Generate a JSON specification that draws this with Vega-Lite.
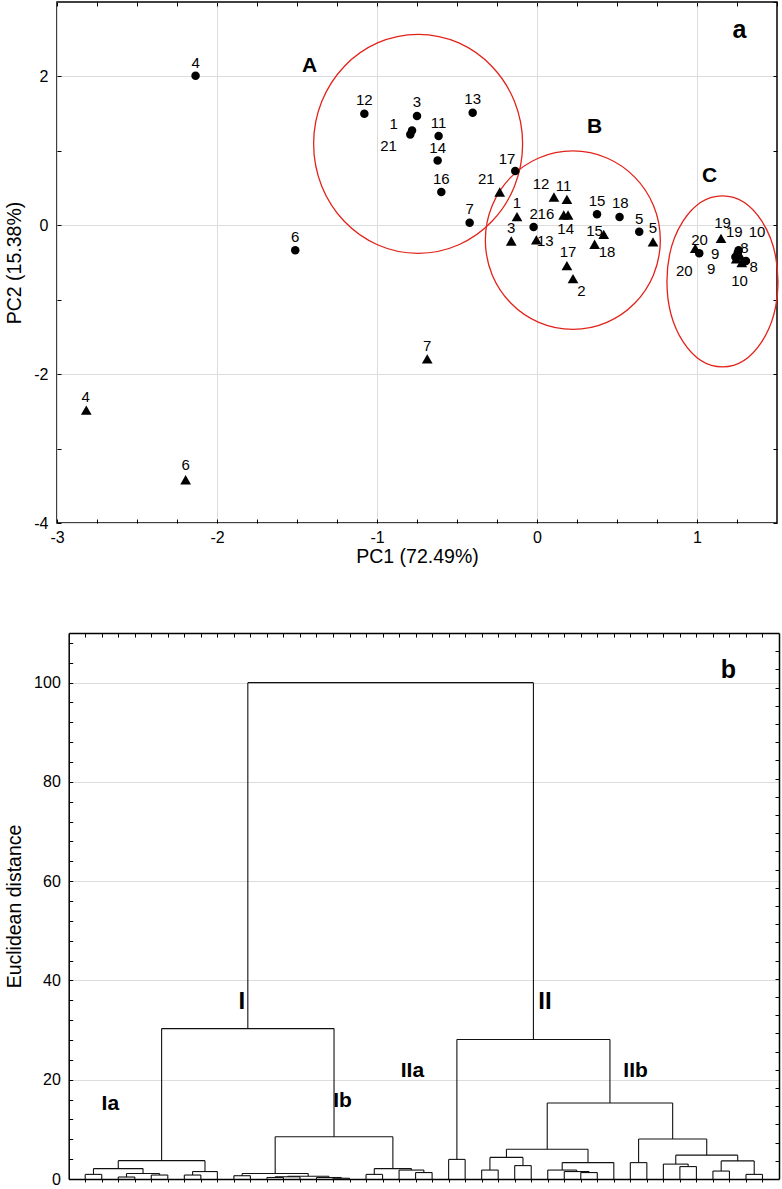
{
  "$schema": "https://vega.github.io/schema/vega-lite/v6.json",
  "padding": {"left": 3, "top": 0, "right": 3, "bottom": 3},
  "columns": 1,
  "spacing": 65,
  "config": {
    "font": "Liberation Sans",
    "view": {"stroke": "black", "strokeWidth": 1.5},
    "axis": {
      "domain": false, "tickColor": "black", "labelColor": "black", "titleColor": "black",
      "labelFont": "Liberation Sans", "titleFont": "Liberation Sans",
      "labelFontSize": 16, "titleFontSize": 19.5, "titleFontWeight": "normal",
      "gridColor": "#dcdcdc", "tickWidth": 1, "labelFlush": false, "labelOverlap": false, "minExtent": 0,
      "domainColor": "black", "domainWidth": 1.5
    }
  },
  "concat": [
    {
      "width": 720,
      "height": 521,
      "resolve": {"axis": {"x": "independent", "y": "independent"}},
      "layer": [
        {
          "data": {"values": [
            {"cluster": "A", "cx": -0.743, "cy": 1.094},
            {"cluster": "B", "cx": 0.224, "cy": -0.2},
            {"cluster": "C", "cx": 1.159, "cy": -0.754}
          ]},
          "mark": {"type": "point", "filled": false, "stroke": "#e2231a", "strokeWidth": 1.3, "size": 4, "opacity": 1},
          "encoding": {
            "x": {"field": "cx", "type": "quantitative", "scale": {"domain": [-3, 1.5], "nice": false, "zero": false}, "axis": null},
            "y": {"field": "cy", "type": "quantitative", "scale": {"domain": [-4, 3], "nice": false, "zero": false}, "axis": null},
            "shape": {"field": "cluster", "type": "nominal", "legend": null,
              "scale": {"domain": ["A", "B", "C"], "range": [
                "M-104.5,0A104.5,109.5,0,1,0,104.5,0A104.5,109.5,0,1,0,-104.5,0Z",
                "M-87.5,0A87.5,89.2,0,1,0,87.5,0A87.5,89.2,0,1,0,-87.5,0Z",
                "M-55.5,0A55.5,85.5,0,1,0,55.5,0A55.5,85.5,0,1,0,-55.5,0Z"
              ]}}
          }
        },
        {
          "mark": {"type": "rule", "color": "#e2231a", "strokeWidth": 1.3},
          "encoding": {
            "y": {"datum": 0, "type": "quantitative", "scale": {"domain": [-4, 3], "nice": false, "zero": false}, "axis": null}
          }
        },
        {
          "data": {"values": [
            {"sample": "4", "pc1": -2.134, "pc2": 2.008},
            {"sample": "12", "pc1": -1.079, "pc2": 1.498},
            {"sample": "6", "pc1": -1.511, "pc2": -0.336},
            {"sample": "3", "pc1": -0.75, "pc2": 1.467},
            {"sample": "1", "pc1": -0.781, "pc2": 1.275},
            {"sample": "21", "pc1": -0.792, "pc2": 1.221},
            {"sample": "11", "pc1": -0.615, "pc2": 1.199},
            {"sample": "14", "pc1": -0.621, "pc2": 0.872},
            {"sample": "16", "pc1": -0.598, "pc2": 0.447},
            {"sample": "13", "pc1": -0.402, "pc2": 1.512},
            {"sample": "17", "pc1": -0.136, "pc2": 0.729},
            {"sample": "7", "pc1": -0.421, "pc2": 0.035},
            {"sample": "2", "pc1": -0.021, "pc2": -0.023},
            {"sample": "15", "pc1": 0.375, "pc2": 0.148},
            {"sample": "18", "pc1": 0.516, "pc2": 0.111},
            {"sample": "5", "pc1": 0.639, "pc2": -0.086},
            {"sample": "20", "pc1": 1.014, "pc2": -0.376},
            {"sample": "19", "pc1": 1.26, "pc2": -0.336},
            {"sample": "10", "pc1": 1.254, "pc2": -0.376},
            {"sample": "9", "pc1": 1.24, "pc2": -0.425},
            {"sample": "8", "pc1": 1.306, "pc2": -0.479}
          ]},
          "mark": {"type": "point", "shape": "circle", "filled": true, "color": "black", "size": 72, "opacity": 1},
          "encoding": {
            "x": {"field": "pc1", "type": "quantitative", "scale": {"domain": [-3, 1.5], "nice": false, "zero": false},
              "title": "PC1 (72.49%)",
              "axis": {"orient": "bottom",
                "values": [-3, -2.75, -2.5, -2.25, -2, -1.75, -1.5, -1.25, -1, -0.75, -0.5, -0.25, 0, 0.25, 0.5, 0.75, 1, 1.25],
                "labelExpr": "datum.value % 1 === 0 ? '' + datum.value : ''",
                "tickSize": -4, "labelPadding": 10.5, "titlePadding": 2,
                "grid": true,
                "gridOpacity": {"condition": {"test": "datum.value % 1 === 0", "value": 1}, "value": 0}}},
            "y": {"field": "pc2", "type": "quantitative", "scale": {"domain": [-4, 3], "nice": false, "zero": false},
              "title": "PC2 (15.38%)",
              "axis": {"orient": "left",
                "values": [-4, -3, -2, -1, 0, 1, 2],
                "labelExpr": "datum.value % 2 === 0 ? '' + datum.value : ''",
                "tickSize": -4, "labelPadding": 13, "titlePadding": 9.5, "minExtent": 0,
                "grid": true,
                "gridOpacity": {"condition": {"test": "datum.value % 2 === 0", "value": 1}, "value": 0}}}
          }
        },
        {
          "data": {"values": [
            {"sample": "21", "pc1": -0.233, "pc2": 0.447},
            {"sample": "1", "pc1": -0.125, "pc2": 0.115},
            {"sample": "3", "pc1": -0.161, "pc2": -0.211},
            {"sample": "12", "pc1": 0.106, "pc2": 0.38},
            {"sample": "11", "pc1": 0.187, "pc2": 0.349},
            {"sample": "16", "pc1": 0.167, "pc2": 0.138},
            {"sample": "14", "pc1": 0.194, "pc2": 0.138},
            {"sample": "13", "pc1": -0.004, "pc2": -0.197},
            {"sample": "17", "pc1": 0.187, "pc2": -0.542},
            {"sample": "2", "pc1": 0.225, "pc2": -0.716},
            {"sample": "15", "pc1": 0.417, "pc2": -0.121},
            {"sample": "18", "pc1": 0.36, "pc2": -0.255},
            {"sample": "5", "pc1": 0.725, "pc2": -0.224},
            {"sample": "7", "pc1": -0.686, "pc2": -1.795},
            {"sample": "4", "pc1": -2.817, "pc2": -2.483},
            {"sample": "6", "pc1": -2.196, "pc2": -3.419},
            {"sample": "20", "pc1": 0.989, "pc2": -0.309},
            {"sample": "19", "pc1": 1.15, "pc2": -0.175},
            {"sample": "9", "pc1": 1.245, "pc2": -0.45},
            {"sample": "8", "pc1": 1.27, "pc2": -0.41},
            {"sample": "10", "pc1": 1.28, "pc2": -0.5}
          ]},
          "mark": {"type": "point", "shape": "triangle-up", "filled": true, "color": "black", "size": 115, "opacity": 1},
          "encoding": {
            "x": {"field": "pc1", "type": "quantitative", "scale": {"domain": [-3, 1.5], "nice": false, "zero": false},
              "axis": {"orient": "top", "title": null, "labels": false, "grid": false,
                "values": [-3, -2.75, -2.5, -2.25, -2, -1.75, -1.5, -1.25, -1, -0.75, -0.5, -0.25, 0, 0.25, 0.5, 0.75, 1, 1.25, 1.5],
                "tickSize": -4}},
            "y": {"field": "pc2", "type": "quantitative", "scale": {"domain": [-4, 3], "nice": false, "zero": false},
              "axis": {"orient": "right", "title": null, "labels": false, "grid": false, "minExtent": 0,
                "values": [-4, -3, -2, -1, 0, 1, 2, 3], "tickSize": -4}}
          }
        },
        {
          "data": {"values": [
            {"t": "4", "lx": -2.134, "ly": 2.18},
            {"t": "12", "lx": -1.079, "ly": 1.68},
            {"t": "6", "lx": -1.511, "ly": -0.155},
            {"t": "3", "lx": -0.75, "ly": 1.657},
            {"t": "1", "lx": -0.896, "ly": 1.366},
            {"t": "21", "lx": -0.928, "ly": 1.067},
            {"t": "11", "lx": -0.615, "ly": 1.38},
            {"t": "14", "lx": -0.621, "ly": 1.044},
            {"t": "16", "lx": -0.598, "ly": 0.62},
            {"t": "13", "lx": -0.402, "ly": 1.694},
            {"t": "17", "lx": -0.1875, "ly": 0.896},
            {"t": "7", "lx": -0.421, "ly": 0.217},
            {"t": "2", "lx": -0.021, "ly": 0.158},
            {"t": "15", "lx": 0.375, "ly": 0.325},
            {"t": "18", "lx": 0.521, "ly": 0.302},
            {"t": "5", "lx": 0.639, "ly": 0.091},
            {"t": "19", "lx": 1.16, "ly": 0.024},
            {"t": "19", "lx": 1.233, "ly": -0.088},
            {"t": "10", "lx": 1.375, "ly": -0.088},
            {"t": "8", "lx": 1.296, "ly": -0.302},
            {"t": "8", "lx": 1.354, "ly": -0.557},
            {"t": "10", "lx": 1.266, "ly": -0.749},
            {"t": "9", "lx": 1.114, "ly": -0.39},
            {"t": "9", "lx": 1.089, "ly": -0.59},
            {"t": "20", "lx": 1.016, "ly": -0.199},
            {"t": "20", "lx": 0.921, "ly": -0.615},
            {"t": "21", "lx": -0.317, "ly": 0.628},
            {"t": "1", "lx": -0.125, "ly": 0.306},
            {"t": "3", "lx": -0.161, "ly": -0.03},
            {"t": "12", "lx": 0.025, "ly": 0.561},
            {"t": "11", "lx": 0.166, "ly": 0.526},
            {"t": "16", "lx": 0.056, "ly": 0.154},
            {"t": "14", "lx": 0.179, "ly": -0.051},
            {"t": "13", "lx": 0.052, "ly": -0.208},
            {"t": "17", "lx": 0.194, "ly": -0.365},
            {"t": "2", "lx": 0.277, "ly": -0.883},
            {"t": "15", "lx": 0.36, "ly": -0.074},
            {"t": "18", "lx": 0.4375, "ly": -0.365},
            {"t": "5", "lx": 0.725, "ly": -0.043},
            {"t": "7", "lx": -0.686, "ly": -1.618},
            {"t": "4", "lx": -2.821, "ly": -2.302},
            {"t": "6", "lx": -2.196, "ly": -3.219}
          ]},
          "mark": {"type": "text", "fontSize": 15, "color": "black", "align": "center", "baseline": "middle"},
          "encoding": {
            "x": {"field": "lx", "type": "quantitative", "scale": {"domain": [-3, 1.5], "nice": false, "zero": false}, "axis": null},
            "y": {"field": "ly", "type": "quantitative", "scale": {"domain": [-4, 3], "nice": false, "zero": false}, "axis": null},
            "text": {"field": "t"}
          }
        },
        {
          "data": {"values": [
            {"t": "A", "lx": -1.421, "ly": 2.145},
            {"t": "B", "lx": 0.36, "ly": 1.317},
            {"t": "C", "lx": 1.079, "ly": 0.668},
            {"t": "a", "lx": 1.266, "ly": 2.628}
          ]},
          "mark": {"type": "text", "fontWeight": "bold", "color": "black", "align": "center", "baseline": "middle"},
          "encoding": {
            "x": {"field": "lx", "type": "quantitative", "scale": {"domain": [-3, 1.5], "nice": false, "zero": false}, "axis": null},
            "y": {"field": "ly", "type": "quantitative", "scale": {"domain": [-4, 3], "nice": false, "zero": false}, "axis": null},
            "text": {"field": "t"},
            "size": {"condition": {"test": "datum.t === 'a'", "value": 25}, "value": 21}
          }
        }
      ]
    },
    {
      "width": 722,
      "height": 546,
      "view": {"stroke": null},
      "resolve": {"axis": {"x": "independent", "y": "independent"}},
      "layer": [
        {
          "data": {"values": [
            {"xa":1,"xb":2,"ya":0.93,"yb":0.93},{"xa":1,"xb":1,"ya":0,"yb":0.93},{"xa":2,"xb":2,"ya":0,"yb":0.93},
            {"xa":3,"xb":4,"ya":0.4,"yb":0.4},{"xa":3,"xb":3,"ya":0,"yb":0.4},{"xa":4,"xb":4,"ya":0,"yb":0.4},
            {"xa":5,"xb":6,"ya":0.8,"yb":0.8},{"xa":5,"xb":5,"ya":0,"yb":0.8},{"xa":6,"xb":6,"ya":0,"yb":0.8},
            {"xa":3.5,"xb":5.5,"ya":1.1,"yb":1.1},{"xa":3.5,"xb":3.5,"ya":0.4,"yb":1.1},{"xa":5.5,"xb":5.5,"ya":0.8,"yb":1.1},
            {"xa":1.5,"xb":4.5,"ya":2.1,"yb":2.1},{"xa":1.5,"xb":1.5,"ya":0.93,"yb":2.1},{"xa":4.5,"xb":4.5,"ya":1.1,"yb":2.1},
            {"xa":7,"xb":8,"ya":0.8,"yb":0.8},{"xa":7,"xb":7,"ya":0,"yb":0.8},{"xa":8,"xb":8,"ya":0,"yb":0.8},
            {"xa":7.5,"xb":9,"ya":1.5,"yb":1.5},{"xa":7.5,"xb":7.5,"ya":0.8,"yb":1.5},{"xa":9,"xb":9,"ya":0,"yb":1.5},
            {"xa":3,"xb":8.25,"ya":3.7,"yb":3.7},{"xa":3,"xb":3,"ya":2.1,"yb":3.7},{"xa":8.25,"xb":8.25,"ya":1.5,"yb":3.7},
            {"xa":10,"xb":11,"ya":0.66,"yb":0.66},{"xa":10,"xb":10,"ya":0,"yb":0.66},{"xa":11,"xb":11,"ya":0,"yb":0.66},
            {"xa":12,"xb":13,"ya":0.3,"yb":0.3},{"xa":12,"xb":12,"ya":0,"yb":0.3},{"xa":13,"xb":13,"ya":0,"yb":0.3},
            {"xa":12.5,"xb":14,"ya":0.45,"yb":0.45},{"xa":12.5,"xb":12.5,"ya":0.3,"yb":0.45},{"xa":14,"xb":14,"ya":0,"yb":0.45},
            {"xa":16,"xb":17,"ya":0.15,"yb":0.15},{"xa":16,"xb":16,"ya":0,"yb":0.15},{"xa":17,"xb":17,"ya":0,"yb":0.15},
            {"xa":15,"xb":16.5,"ya":0.3,"yb":0.3},{"xa":15,"xb":15,"ya":0,"yb":0.3},{"xa":16.5,"xb":16.5,"ya":0.15,"yb":0.3},
            {"xa":13.25,"xb":15.75,"ya":0.55,"yb":0.55},{"xa":13.25,"xb":13.25,"ya":0.45,"yb":0.55},{"xa":15.75,"xb":15.75,"ya":0.3,"yb":0.55},
            {"xa":10.5,"xb":14.5,"ya":1.1,"yb":1.1},{"xa":10.5,"xb":10.5,"ya":0.66,"yb":1.1},{"xa":14.5,"xb":14.5,"ya":0.55,"yb":1.1},
            {"xa":18,"xb":19,"ya":0.93,"yb":0.93},{"xa":18,"xb":18,"ya":0,"yb":0.93},{"xa":19,"xb":19,"ya":0,"yb":0.93},
            {"xa":21,"xb":22,"ya":1.3,"yb":1.3},{"xa":21,"xb":21,"ya":0,"yb":1.3},{"xa":22,"xb":22,"ya":0,"yb":1.3},
            {"xa":20,"xb":21.5,"ya":1.8,"yb":1.8},{"xa":20,"xb":20,"ya":0,"yb":1.8},{"xa":21.5,"xb":21.5,"ya":1.3,"yb":1.8},
            {"xa":18.5,"xb":20.75,"ya":2.1,"yb":2.1},{"xa":18.5,"xb":18.5,"ya":0.93,"yb":2.1},{"xa":20.75,"xb":20.75,"ya":1.8,"yb":2.1},
            {"xa":12.5,"xb":19.625,"ya":8.5,"yb":8.5},{"xa":12.5,"xb":12.5,"ya":1.1,"yb":8.5},{"xa":19.625,"xb":19.625,"ya":2.1,"yb":8.5},
            {"xa":5.625,"xb":16.0625,"ya":30.3,"yb":30.3},{"xa":5.625,"xb":5.625,"ya":3.7,"yb":30.3},{"xa":16.0625,"xb":16.0625,"ya":8.5,"yb":30.3},
            {"xa":23,"xb":24,"ya":3.95,"yb":3.95},{"xa":23,"xb":23,"ya":0,"yb":3.95},{"xa":24,"xb":24,"ya":0,"yb":3.95},
            {"xa":25,"xb":26,"ya":1.8,"yb":1.8},{"xa":25,"xb":25,"ya":0,"yb":1.8},{"xa":26,"xb":26,"ya":0,"yb":1.8},
            {"xa":27,"xb":28,"ya":2.7,"yb":2.7},{"xa":27,"xb":27,"ya":0,"yb":2.7},{"xa":28,"xb":28,"ya":0,"yb":2.7},
            {"xa":25.5,"xb":27.5,"ya":4.35,"yb":4.35},{"xa":25.5,"xb":25.5,"ya":1.8,"yb":4.35},{"xa":27.5,"xb":27.5,"ya":2.7,"yb":4.35},
            {"xa":31,"xb":32,"ya":1.3,"yb":1.3},{"xa":31,"xb":31,"ya":0,"yb":1.3},{"xa":32,"xb":32,"ya":0,"yb":1.3},
            {"xa":30,"xb":31.5,"ya":1.5,"yb":1.5},{"xa":30,"xb":30,"ya":0,"yb":1.5},{"xa":31.5,"xb":31.5,"ya":1.3,"yb":1.5},
            {"xa":29,"xb":30.75,"ya":1.8,"yb":1.8},{"xa":29,"xb":29,"ya":0,"yb":1.8},{"xa":30.75,"xb":30.75,"ya":1.5,"yb":1.8},
            {"xa":29.875,"xb":33,"ya":3.3,"yb":3.3},{"xa":29.875,"xb":29.875,"ya":1.8,"yb":3.3},{"xa":33,"xb":33,"ya":0,"yb":3.3},
            {"xa":26.5,"xb":31.4375,"ya":6,"yb":6},{"xa":26.5,"xb":26.5,"ya":4.35,"yb":6},{"xa":31.4375,"xb":31.4375,"ya":3.3,"yb":6},
            {"xa":34,"xb":35,"ya":3.3,"yb":3.3},{"xa":34,"xb":34,"ya":0,"yb":3.3},{"xa":35,"xb":35,"ya":0,"yb":3.3},
            {"xa":37,"xb":38,"ya":2.5,"yb":2.5},{"xa":37,"xb":37,"ya":0,"yb":2.5},{"xa":38,"xb":38,"ya":0,"yb":2.5},
            {"xa":36,"xb":37.5,"ya":3,"yb":3},{"xa":36,"xb":36,"ya":0,"yb":3},{"xa":37.5,"xb":37.5,"ya":2.5,"yb":3},
            {"xa":39,"xb":40,"ya":1.6,"yb":1.6},{"xa":39,"xb":39,"ya":0,"yb":1.6},{"xa":40,"xb":40,"ya":0,"yb":1.6},
            {"xa":41,"xb":42,"ya":0.93,"yb":0.93},{"xa":41,"xb":41,"ya":0,"yb":0.93},{"xa":42,"xb":42,"ya":0,"yb":0.93},
            {"xa":39.5,"xb":41.5,"ya":3.65,"yb":3.65},{"xa":39.5,"xb":39.5,"ya":1.6,"yb":3.65},{"xa":41.5,"xb":41.5,"ya":0.93,"yb":3.65},
            {"xa":36.75,"xb":40.5,"ya":4.8,"yb":4.8},{"xa":36.75,"xb":36.75,"ya":3,"yb":4.8},{"xa":40.5,"xb":40.5,"ya":3.65,"yb":4.8},
            {"xa":34.5,"xb":38.625,"ya":8.05,"yb":8.05},{"xa":34.5,"xb":34.5,"ya":3.3,"yb":8.05},{"xa":38.625,"xb":38.625,"ya":4.8,"yb":8.05},
            {"xa":28.96875,"xb":36.5625,"ya":15.3,"yb":15.3},{"xa":28.96875,"xb":28.96875,"ya":6,"yb":15.3},{"xa":36.5625,"xb":36.5625,"ya":8.05,"yb":15.3},
            {"xa":23.5,"xb":32.765625,"ya":28.1,"yb":28.1},{"xa":23.5,"xb":23.5,"ya":3.95,"yb":28.1},{"xa":32.765625,"xb":32.765625,"ya":15.3,"yb":28.1},
            {"xa":10.84375,"xb":28.1328,"ya":100,"yb":100},{"xa":10.84375,"xb":10.84375,"ya":30.3,"yb":100},{"xa":28.1328,"xb":28.1328,"ya":28.1,"yb":100}
          ]},
          "mark": {"type": "rule", "color": "#111111", "strokeWidth": 1.1},
          "encoding": {
            "x": {"field": "xa", "type": "quantitative", "scale": {"domain": [0, 43], "range": [11.7, 722], "nice": false, "zero": false},
              "axis": {"orient": "bottom", "title": null, "labels": false, "grid": false, "tickSize": 3, "domain": true,
                "values": [1,2,3,4,5,6,7,8,9,10,11,12,13,14,15,16,17,18,19,20,21,22,23,24,25,26,27,28,29,30,31,32,33,34,35,36,37,38,39,40,41,42]}},
            "x2": {"field": "xb"},
            "y": {"field": "ya", "type": "quantitative", "scale": {"domain": [0, 110], "nice": false, "zero": false},
              "title": "Euclidean distance",
              "axis": {"orient": "left", "offset": -11.7, "domain": true,
                "values": [0,4,8,12,16,20,24,28,32,36,40,44,48,52,56,60,64,68,72,76,80,84,88,92,96,100,104,108],
                "labelExpr": "datum.value % 20 === 0 ? '' + datum.value : ''",
                "tickSize": -4, "labelPadding": 12.4, "titlePadding": 9.5, "minExtent": 0,
                "grid": true,
                "gridOpacity": {"condition": {"test": "datum.value % 20 === 0 && datum.value > 0", "value": 1}, "value": 0}}},
            "y2": {"field": "yb"}
          }
        },
        {
          "data": {"values": [
            {"t": "I", "lx": 10.48, "ly": 35.6},
            {"t": "Ia", "lx": 2.52, "ly": 15.1},
            {"t": "Ib", "lx": 16.58, "ly": 15.8},
            {"t": "II", "lx": 28.83, "ly": 35.6},
            {"t": "IIa", "lx": 20.81, "ly": 21.7},
            {"t": "IIb", "lx": 34.32, "ly": 21.7},
            {"t": "b", "lx": 39.93, "ly": 102.6}
          ]},
          "mark": {"type": "text", "fontWeight": "bold", "color": "black", "align": "center", "baseline": "middle"},
          "encoding": {
            "x": {"field": "lx", "type": "quantitative", "scale": {"domain": [0, 43], "range": [11.7, 722], "nice": false, "zero": false},
              "axis": {"orient": "top", "title": null, "labels": false, "grid": false, "tickSize": -4, "domain": true,
                "values": [1,2,3,4,5,6,7,8,9,10,11,12,13,14,15,16,17,18,19,20,21,22,23,24,25,26,27,28,29,30,31,32,33,34,35,36,37,38,39,40,41,42]}},
            "y": {"field": "ly", "type": "quantitative", "scale": {"domain": [0, 110], "nice": false, "zero": false},
              "axis": {"orient": "right", "title": null, "labels": false, "grid": false, "tickSize": -4, "minExtent": 0, "domain": true,
                "values": [3.667,7.333,11,14.667,18.333,22,25.667,29.333,33,36.667,40.333,44,47.667,51.333,55,58.667,62.333,66,69.667,73.333,77,80.667,84.333,88,91.667,95.333,99,102.667,106.333]}},
            "text": {"field": "t"},
            "size": {"condition": [
              {"test": "datum.t === 'b'", "value": 25},
              {"test": "datum.t === 'I' || datum.t === 'II'", "value": 24}
            ], "value": 21}
          }
        }
      ]
    }
  ]
}
